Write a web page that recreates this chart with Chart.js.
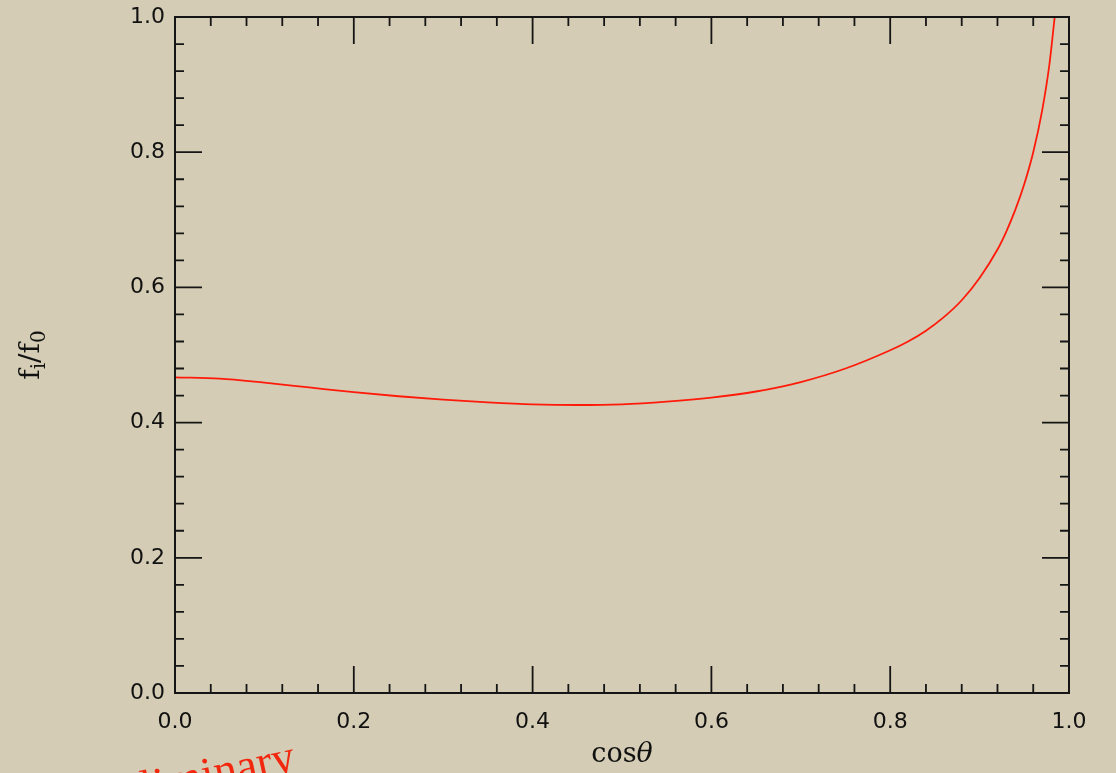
<!DOCTYPE html>
<html>
<head>
<meta charset="utf-8">
<script src="https://cdn.jsdelivr.net/npm/chart.js@4.4.1/dist/chart.umd.min.js"></script>
<style>
  html, body { margin: 0; padding: 0; background: #d4ccb4; }
  #c { display: block; }
</style>
</head>
<body>
<canvas id="c" width="1116" height="773" style="width:1116px;height:773px"></canvas>
<script>
// ---- data ----
const xValues = [0, 0.05, 0.10, 0.15, 0.20, 0.25, 0.30, 0.35, 0.40, 0.45, 0.50, 0.55, 0.60, 0.65, 0.70, 0.75, 0.80, 0.82, 0.84, 0.86, 0.88, 0.90, 0.92, 0.93, 0.94, 0.95, 0.96, 0.97, 0.978, 0.984];
const yValues = [0.467, 0.465, 0.459, 0.452, 0.445, 0.439, 0.434, 0.430, 0.427, 0.426, 0.427, 0.431, 0.437, 0.446, 0.460, 0.480, 0.507, 0.520, 0.536, 0.556, 0.581, 0.614, 0.656, 0.683, 0.715, 0.753, 0.800, 0.862, 0.929, 1.0];
const xTickValues = [0, 0.2, 0.4, 0.6, 0.8, 1.0];
const xTickLabels = ["0.0", "0.2", "0.4", "0.6", "0.8", "1.0"];
const yTickValues = [0, 0.2, 0.4, 0.6, 0.8, 1.0];
const yTickLabels = ["0.0", "0.2", "0.4", "0.6", "0.8", "1.0"];
const minorPerMajor = 5;
const xTitle = ["cos", "θ"];
const yTitle = ["f", "i", "/", "f", "0"];
const watermark = "Preliminary";

const points = xValues.map((v, i) => ({ x: v, y: yValues[i] }));

const bgPlugin = {
  id: 'bg',
  beforeDraw(chart) {
    const ctx = chart.ctx;
    ctx.save();
    ctx.fillStyle = '#d4ccb4';
    ctx.fillRect(0, 0, chart.width, chart.height);
    ctx.restore();
  }
};

const framePlugin = {
  id: 'frame',
  afterDatasetsDraw(chart) {
    const { ctx, chartArea: a, scales } = chart;
    const xs = scales.x, ys = scales.y;
    ctx.save();
    ctx.strokeStyle = '#151515';
    ctx.lineWidth = 2;
    ctx.strokeRect(a.left, a.top, a.right - a.left, a.bottom - a.top);
    ctx.lineWidth = 1.8;
    ctx.beginPath();
    for (let k = 0; k < xTickValues.length - 1; k++) {
      const v0 = xTickValues[k], v1 = xTickValues[k + 1];
      for (let j = 0; j < minorPerMajor; j++) {
        const v = v0 + (v1 - v0) * j / minorPerMajor;
        const len = j === 0 ? 27 : 9;
        const px = xs.getPixelForValue(v);
        ctx.moveTo(px, a.bottom); ctx.lineTo(px, a.bottom - len);
        ctx.moveTo(px, a.top); ctx.lineTo(px, a.top + len);
      }
    }
    for (let k = 0; k < yTickValues.length - 1; k++) {
      const v0 = yTickValues[k], v1 = yTickValues[k + 1];
      for (let j = 0; j < minorPerMajor; j++) {
        const v = v0 + (v1 - v0) * j / minorPerMajor;
        const len = j === 0 ? 27 : 9;
        const py = ys.getPixelForValue(v);
        ctx.moveTo(a.left, py); ctx.lineTo(a.left + len, py);
        ctx.moveTo(a.right, py); ctx.lineTo(a.right - len, py);
      }
    }
    ctx.stroke();

    // x title: cos + italic theta
    ctx.fillStyle = '#111';
    ctx.textBaseline = 'alphabetic';
    const f1 = '27px "DejaVu Serif"', f2 = 'italic 27px "DejaVu Serif"';
    ctx.font = f1; const w1 = ctx.measureText(xTitle[0]).width;
    ctx.font = f2; const w2 = ctx.measureText(xTitle[1]).width;
    const cx = (a.left + a.right) / 2;
    let sx = cx - (w1 + w2) / 2;
    ctx.font = f1; ctx.textAlign = 'left';
    ctx.fillText(xTitle[0], sx, 762);
    ctx.font = f2;
    ctx.fillText(xTitle[1], sx + w1, 762);

    // y title: f_i / f_0 rotated
    const big = '28px "DejaVu Serif"', small = '20px "DejaVu Serif"';
    const parts = [
      { t: yTitle[0], f: big, dy: 0 },
      { t: yTitle[1], f: small, dy: 6 },
      { t: yTitle[2], f: big, dy: 0 },
      { t: yTitle[3], f: big, dy: 0 },
      { t: yTitle[4], f: small, dy: 6 }
    ];
    let total = 0;
    parts.forEach(p => { ctx.font = p.f; p.w = ctx.measureText(p.t).width; total += p.w; });
    ctx.translate(39, (a.top + a.bottom) / 2);
    ctx.rotate(-Math.PI / 2);
    let px = -total / 2;
    parts.forEach(p => { ctx.font = p.f; ctx.fillText(p.t, px, p.dy); px += p.w; });
    ctx.restore();

    // watermark
    ctx.save();
    ctx.translate(297, 770);
    ctx.rotate(-12 * Math.PI / 180);
    ctx.font = '46px "Liberation Serif"';
    ctx.fillStyle = '#f2280e';
    ctx.textAlign = 'right';
    ctx.textBaseline = 'alphabetic';
    ctx.fillText(watermark, 0, 0);
    ctx.restore();
  }
};

new Chart(document.getElementById('c'), {
  type: 'scatter',
  data: {
    datasets: [{
      data: points,
      showLine: true,
      borderColor: '#ff1a0a',
      borderWidth: 1.8,
      pointRadius: 0,
      cubicInterpolationMode: 'monotone',
      fill: false
    }]
  },
  options: {
    responsive: false,
    animation: false,
    devicePixelRatio: 1,
    layout: { padding: { top: 17, right: 47, left: 0, bottom: 0 } },
    plugins: { legend: { display: false }, tooltip: { enabled: false } },
    scales: {
      x: {
        type: 'linear', min: 0, max: 1,
        grid: { display: false },
        border: { display: false },
        afterFit(s) { s.height = 80; s.paddingLeft = 0; s.paddingRight = 0; },
        afterBuildTicks(s) { s.ticks = xTickValues.map(v => ({ value: v })); },
        ticks: {
          padding: 8,
          color: '#111',
          font: { family: '"DejaVu Sans"', size: 22 },
          maxRotation: 0,
          callback: (v) => { const i = xTickValues.findIndex(t => Math.abs(t - v) < 1e-9); return i >= 0 ? xTickLabels[i] : ''; }
        }
      },
      y: {
        type: 'linear', min: 0, max: 1,
        grid: { display: false },
        border: { display: false },
        afterFit(s) { s.width = 175; s.paddingTop = 0; s.paddingBottom = 0; },
        afterBuildTicks(s) { s.ticks = yTickValues.map(v => ({ value: v })); },
        ticks: {
          padding: 2,
          color: '#111',
          font: { family: '"DejaVu Sans"', size: 22 },
          callback: (v) => { const i = yTickValues.findIndex(t => Math.abs(t - v) < 1e-9); return i >= 0 ? yTickLabels[i] : ''; }
        }
      }
    }
  },
  plugins: [bgPlugin, framePlugin]
});
</script>
</body>
</html>
